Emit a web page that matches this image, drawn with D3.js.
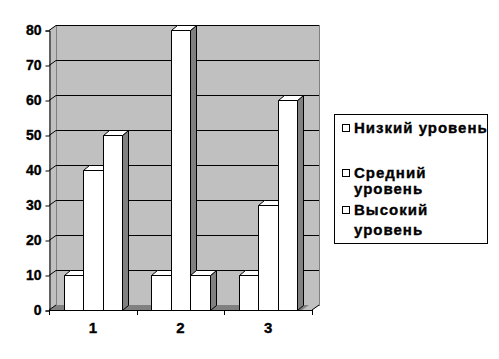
<!DOCTYPE html>
<html><head><meta charset="utf-8">
<script src="https://cdn.jsdelivr.net/npm/d3@7"></script>
<style>body{margin:0;background:#fff}svg{display:block}text{font-family:Arial,"Liberation Sans",sans-serif;font-weight:bold;fill:#000;stroke:#000;stroke-width:0.35px}</style>
</head><body>
<script>
const categories = ["1", "2", "3"];
const seriesNames = ["Низкий уровень", "Средний уровень", "Высокий уровень"];
const legendLines = [["Низкий уровень"], ["Средний", "уровень"], ["Высокий", "уровень"]];
const lowValues = [10, 10, 10];
const midValues = [40, 80, 30];
const highValues = [50, 10, 60];
const yTicks = [0, 10, 20, 30, 40, 50, 60, 70, 80];

(function () {
const W = 499, H = 359;
const svg = d3.select("body").append("svg").attr("width", W).attr("height", H);

const pLeft = 49, pRight = 312, pBottom = 310, pTop = 30;
const wdx = 7, wdy = -5;   // wall depth
const bdx = 6, bdy = -5;   // bar depth

const y = d3.scaleLinear().domain([0, 80]).range([pBottom, pTop]);
const x = d3.scaleBand().domain(categories).range([pLeft, pRight]).paddingInner(1/3).paddingOuter(1/6);
const xs = d3.scaleBand().domain(seriesNames).range([0, x.bandwidth()]);

const wallFill = "#c0c0c0", dark = "#808080";

// back wall
svg.append("rect").attr("x", pLeft + wdx + 0.5).attr("y", y(80) + wdy + 0.5)
  .attr("width", pRight - pLeft).attr("height", y(0) - y(80))
  .attr("fill", wallFill).attr("stroke", dark);
// left wall
svg.append("polygon").attr("points", [[pLeft, y(80)], [pLeft + wdx, y(80) + wdy], [pLeft + wdx, y(0) + wdy], [pLeft, y(0)]].join(" "))
  .attr("fill", wallFill).attr("stroke", "none");
svg.append("line").attr("x1", pLeft + wdx + 0.5).attr("x2", pLeft + wdx + 0.5).attr("y1", y(80) + wdy).attr("y2", y(0) + wdy).attr("stroke", dark);
// floor
svg.append("polygon").attr("points", [[pLeft, y(0)], [pRight, y(0)], [pRight + wdx, y(0) + wdy], [pLeft + wdx, y(0) + wdy]].join(" "))
  .attr("fill", dark).attr("stroke", "none");
svg.append("polygon").attr("points", [[pRight - 10, y(0)], [pRight, y(0)], [pRight + wdx, y(0) + wdy], [pRight - 10 + wdx, y(0) + wdy]].join(" "))
  .attr("fill", wallFill).attr("stroke", "none");
svg.append("line").attr("x1", pRight).attr("y1", y(0)).attr("x2", pRight + wdx).attr("y2", y(0) + wdy).attr("stroke", "#000");

// gridlines
yTicks.filter(v => v > 0).forEach(v => {
  svg.append("polyline").attr("points", [[pLeft, y(v) + 0.5], [pLeft + wdx, y(v) + wdy + 0.5], [pRight + wdx, y(v) + wdy + 0.5]].join(" "))
    .attr("fill", "none").attr("stroke", "#000").attr("stroke-width", 1);
});
svg.append("line").attr("x1", pLeft).attr("y1", y(0)).attr("x2", pLeft + wdx).attr("y2", y(0) + wdy).attr("stroke", "#000");

// bars
const seriesVals = [lowValues, midValues, highValues];
categories.forEach((c, ci) => {
  seriesNames.forEach((s, si) => {
    const v = seriesVals[si][ci];
    const x0 = Math.round(x(c) + xs(s)) + 0.5, x1 = Math.round(x(c) + xs(s) + xs.bandwidth()) + 0.5;
    const yt = Math.round(y(v)) + 0.5, yb = Math.round(y(0)) + 0.5;
    const g = svg.append("g").attr("stroke", "#000").attr("stroke-width", 1).attr("stroke-linejoin", "round");
    g.append("polygon").attr("points", [[x1, yt], [x1 + bdx, yt + bdy], [x1 + bdx, yb + bdy], [x1, yb]].join(" ")).attr("fill", dark);
    g.append("polygon").attr("points", [[x0, yt], [x0 + bdx, yt + bdy], [x1 + bdx, yt + bdy], [x1, yt]].join(" ")).attr("fill", "#fff");
    g.append("rect").attr("x", x0).attr("y", yt).attr("width", x1 - x0).attr("height", yb - yt).attr("fill", "#fff");
  });
});

// y axis
const ya = svg.append("g").attr("transform", `translate(${pLeft + 0.5},0.5)`)
  .call(d3.axisLeft(y).tickValues(yTicks).tickSize(4).tickPadding(4));
ya.select(".domain").attr("stroke", "#000");
ya.selectAll("line").attr("stroke", "#000");
ya.selectAll("text").style("font-size", "14px").style("font-family", 'Arial,"Liberation Sans",sans-serif').style("font-weight", "bold");

// x axis
svg.append("line").attr("x1", pLeft).attr("x2", pRight + 0.5).attr("y1", y(0) + 0.5).attr("y2", y(0) + 0.5).attr("stroke", "#000");
const step = x.step();
const bounds = categories.map(c => x(c) - step * x.paddingInner() / 2).concat([pRight]);
bounds.forEach(b => {
  svg.append("line").attr("x1", Math.round(b) + 0.5).attr("x2", Math.round(b) + 0.5).attr("y1", y(0)).attr("y2", y(0) + 5).attr("stroke", "#000");
});
categories.forEach(c => {
  svg.append("text").attr("x", x(c) + x.bandwidth() / 2).attr("y", 333)
    .attr("text-anchor", "middle").style("font-size", "15px").text(c);
});

// legend
svg.append("rect").attr("x", 334.5).attr("y", 114.5).attr("width", 153).attr("height", 129)
  .attr("fill", "#fff").attr("stroke", "#000");
const legendY = [[133], [178, 194], [215, 235]];
legendLines.forEach((lines, i) => {
  svg.append("rect").attr("x", 342.5).attr("y", legendY[i][0] - 8.5).attr("width", 7).attr("height", 7)
    .attr("fill", "#fff").attr("stroke", "#000").style("stroke-width", "1px");
  lines.forEach((t, j) => {
    svg.append("text").attr("x", 354).attr("y", legendY[i][j]).style("font-size", "15px")
      .style("letter-spacing", "1px").text(t);
  });
});
})();
</script>
</body></html>
